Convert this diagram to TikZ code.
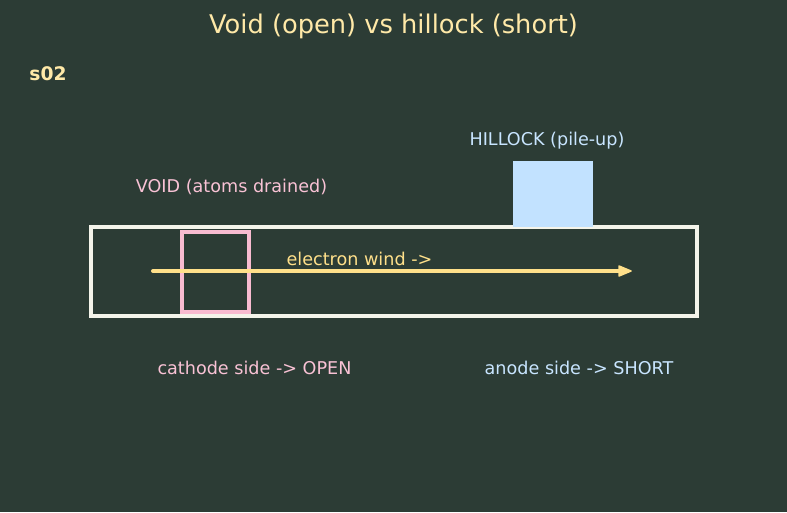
\documentclass[tikz,border=0pt]{standalone}
\usepackage{fontspec}
\setmainfont{DejaVu Sans}
\usetikzlibrary{arrows.meta}
\definecolor{bgdark}{HTML}{2C3C35}
\definecolor{titleyellow}{HTML}{FFE9A8}
\definecolor{windyellow}{HTML}{FFE08A}
\definecolor{voidpink}{HTML}{F8BBD0}
\definecolor{hillblue}{HTML}{C2E2FF}
\definecolor{wirewhite}{HTML}{F4F4EA}
\tikzstyle{txt}=[inner sep=0pt, font=\fontsize{17.6}{20}\selectfont]
\tikzstyle{voidtext}=[txt, text=voidpink!90!white]
\tikzstyle{hilltext}=[txt, text=hillblue!90!white]

\begin{document}
\begin{tikzpicture}[x=1pt, y=-1pt]
				% Background and frame of the picture
				\fill[bgdark] (0,0) rectangle (787,512);
				\useasboundingbox (0,0) rectangle (787,512);

				\node[inner sep=0pt, text=titleyellow, font=\fontsize{25.7}{30}\selectfont] (title) at (393.5,26) {Void (open) vs hillock (short)};
				\node[inner sep=0pt, text=titleyellow, font=\fontsize{18.7}{22}\selectfont\bfseries] (tag) at (48,73.5) {s02};

				% Wire, void and hillock
				\node[draw=wirewhite, line width=4pt, minimum width=606pt, minimum height=89pt, inner sep=0pt] (wire) at (394,271.5) {};
				\node[draw=voidpink, line width=4pt, minimum width=67pt, minimum height=80pt, inner sep=0pt] (void) at (215,271.5) {};
				\node[fill=hillblue, minimum width=80pt, minimum height=66pt, inner sep=0pt] (hillock) at (553,194) {};

				% Electron wind
				\coordinate (windstart) at (153,271);
				\coordinate (windend) at (631,271);
				\coordinate (windhead) at (620,271);
				\draw[windyellow, line width=4pt, line cap=round] (windstart) -- (windhead);
				\filldraw[windyellow, line width=1.5pt, line join=round] (windend) -- ([shift={(-12,-5)}]windend) -- ([shift={(-12,5)}]windend) -- cycle;
				\node[txt, text=windyellow] (wind) at (359.5,258.5) {electron wind ->};

				\node[voidtext] (voidlabel) at (231.5,186.5) {VOID (atoms drained)};
				\node[hilltext] (hilllabel) at (547,140.5) {HILLOCK (pile-up)};
				\node[voidtext] (cathode) at (254.5,367.5) {cathode side -> OPEN};
				\node[hilltext] (anode) at (579,367.5) {anode side -> SHORT};
			\end{tikzpicture}
\end{document}
